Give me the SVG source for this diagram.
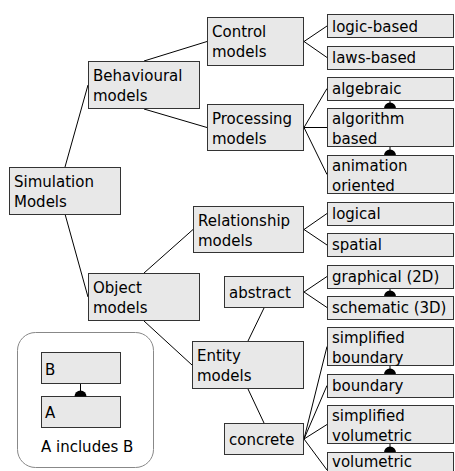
<svg xmlns="http://www.w3.org/2000/svg" width="455" height="471" viewBox="0 0 455 471">
<style>
.box{fill:#e8e8e8;stroke:#333;stroke-width:1}
.t{font-family:"DejaVu Sans","Liberation Sans",sans-serif;font-size:15px;fill:#000}
.c{stroke:#000;stroke-width:1;fill:none}
.inc{fill:#000}
</style>
<rect width="455" height="471" fill="#fff"/>
<g id="connectors">
<path class="c" d="M65,167 L88,85"/>
<path class="c" d="M65,214 L88,297"/>
<path class="c" d="M144,61 L207,41.5"/>
<path class="c" d="M144,109 L207,127.5"/>
<path class="c" d="M304,41.5 L327,26"/>
<path class="c" d="M304,41.5 L327,57.5"/>
<path class="c" d="M304,127.5 L327,88.5"/>
<path class="c" d="M304,127.5 L327,127.5"/>
<path class="c" d="M304,127.5 L327,174.5"/>
<path class="c" d="M144,273 L193,229.5"/>
<path class="c" d="M144,321 L192,365"/>
<path class="c" d="M304,229.5 L327,213.5"/>
<path class="c" d="M304,229.5 L327,245"/>
<path class="c" d="M248,341 L264,308"/>
<path class="c" d="M248,389 L264,423"/>
<path class="c" d="M304,292 L327,276.5"/>
<path class="c" d="M304,292 L327,307.5"/>
<path class="c" d="M304,439 L327,346.5"/>
<path class="c" d="M304,439 L327,385.5"/>
<path class="c" d="M304,439 L327,424.5"/>
<path class="c" d="M304,439 L327,470"/>
<path class="c" d="M390,100 V108 M390,147 V155 M390,288 V296 M390,366 V374 M390,444 V452"/>
<path class="inc" d="M384,108.5 A6,6 0 0 1 396,108.5 Z M384,155.5 A6,6 0 0 1 396,155.5 Z M384,296.5 A6,6 0 0 1 396,296.5 Z M384,374.5 A6,6 0 0 1 396,374.5 Z M384,452.5 A6,6 0 0 1 396,452.5 Z"/>
</g>
<g id="simulation"><rect class="box" x="9.5" y="167.5" width="111" height="47"/><text class="t" x="14" y="187">Simulation</text><text class="t" x="14" y="206.5">Models</text></g>
<g id="behavioural"><rect class="box" x="88.5" y="61.5" width="111" height="47"/><text class="t" x="93" y="81">Behavioural</text><text class="t" x="93" y="101">models</text></g>
<g id="object"><rect class="box" x="88.5" y="273.5" width="111" height="47"/><text class="t" x="93" y="293">Object</text><text class="t" x="93" y="313">models</text></g>
<g id="control"><rect class="box" x="207.5" y="17.5" width="96" height="48"/><text class="t" x="212" y="37">Control</text><text class="t" x="212" y="57">models</text></g>
<g id="processing"><rect class="box" x="207.5" y="104.5" width="96" height="46"/><text class="t" x="212" y="124">Processing</text><text class="t" x="212" y="143.5">models</text></g>
<g id="relationship"><rect class="box" x="193.5" y="206.5" width="110" height="46"/><text class="t" x="198" y="226">Relationship</text><text class="t" x="198" y="245.5">models</text></g>
<g id="entity"><rect class="box" x="192.5" y="341.5" width="111" height="47"/><text class="t" x="197" y="361">Entity</text><text class="t" x="197" y="381">models</text></g>
<g id="abstract"><rect class="box" x="224.5" y="276.5" width="79" height="31"/><text class="t" x="229" y="298">abstract</text></g>
<g id="concrete"><rect class="box" x="224.5" y="423.5" width="79" height="31"/><text class="t" x="229" y="444.5">concrete</text></g>
<g id="logic-based"><rect class="box" x="327.5" y="14.5" width="126" height="23"/><text class="t" x="332" y="31.5">logic-based</text></g>
<g id="laws-based"><rect class="box" x="327.5" y="46.5" width="126" height="23"/><text class="t" x="332" y="63">laws-based</text></g>
<g id="algebraic"><rect class="box" x="327.5" y="77.5" width="126" height="23"/><text class="t" x="332" y="94">algebraic</text></g>
<g id="algorithm-based"><rect class="box" x="327.5" y="108.5" width="126" height="38"/><text class="t" x="332" y="123.5">algorithm</text><text class="t" x="332" y="143.5">based</text></g>
<g id="animation-oriented"><rect class="box" x="327.5" y="155.5" width="126" height="38"/><text class="t" x="332" y="170.5">animation</text><text class="t" x="332" y="190.5">oriented</text></g>
<g id="logical"><rect class="box" x="327.5" y="202.5" width="126" height="23"/><text class="t" x="332" y="219">logical</text></g>
<g id="spatial"><rect class="box" x="327.5" y="233.5" width="126" height="23"/><text class="t" x="332" y="250">spatial</text></g>
<g id="graphical"><rect class="box" x="327.5" y="265.5" width="126" height="23"/><text class="t" x="332" y="282">graphical (2D)</text></g>
<g id="schematic"><rect class="box" x="327.5" y="296.5" width="126" height="23"/><text class="t" x="332" y="313">schematic (3D)</text></g>
<g id="simplified-boundary"><rect class="box" x="327.5" y="327.5" width="126" height="38"/><text class="t" x="332" y="342.5">simplified</text><text class="t" x="332" y="362.5">boundary</text></g>
<g id="boundary"><rect class="box" x="327.5" y="374.5" width="126" height="23"/><text class="t" x="332" y="391">boundary</text></g>
<g id="simplified-volumetric"><rect class="box" x="327.5" y="405.5" width="126" height="38"/><text class="t" x="332" y="420.5">simplified</text><text class="t" x="332" y="440.5">volumetric</text></g>
<g id="volumetric"><rect class="box" x="327.5" y="452.5" width="126" height="23"/><text class="t" x="332" y="467">volumetric</text></g>
<g id="legend">
<rect x="17.5" y="332.5" width="136" height="135" rx="18" ry="18" fill="#fff" stroke="#888"/>
<rect class="box" x="41.5" y="352.5" width="79" height="31"/><text class="t" x="45" y="374.5">B</text>
<rect class="box" x="41.5" y="396.5" width="79" height="31"/><text class="t" x="45" y="418">A</text>
<path class="c" d="M80.5,384 V391"/>
<path class="inc" d="M74.5,396.5 A6,6 0 0 1 86.5,396.5 Z"/>
<text class="t" x="41" y="452">A includes B</text>
</g>
</svg>
